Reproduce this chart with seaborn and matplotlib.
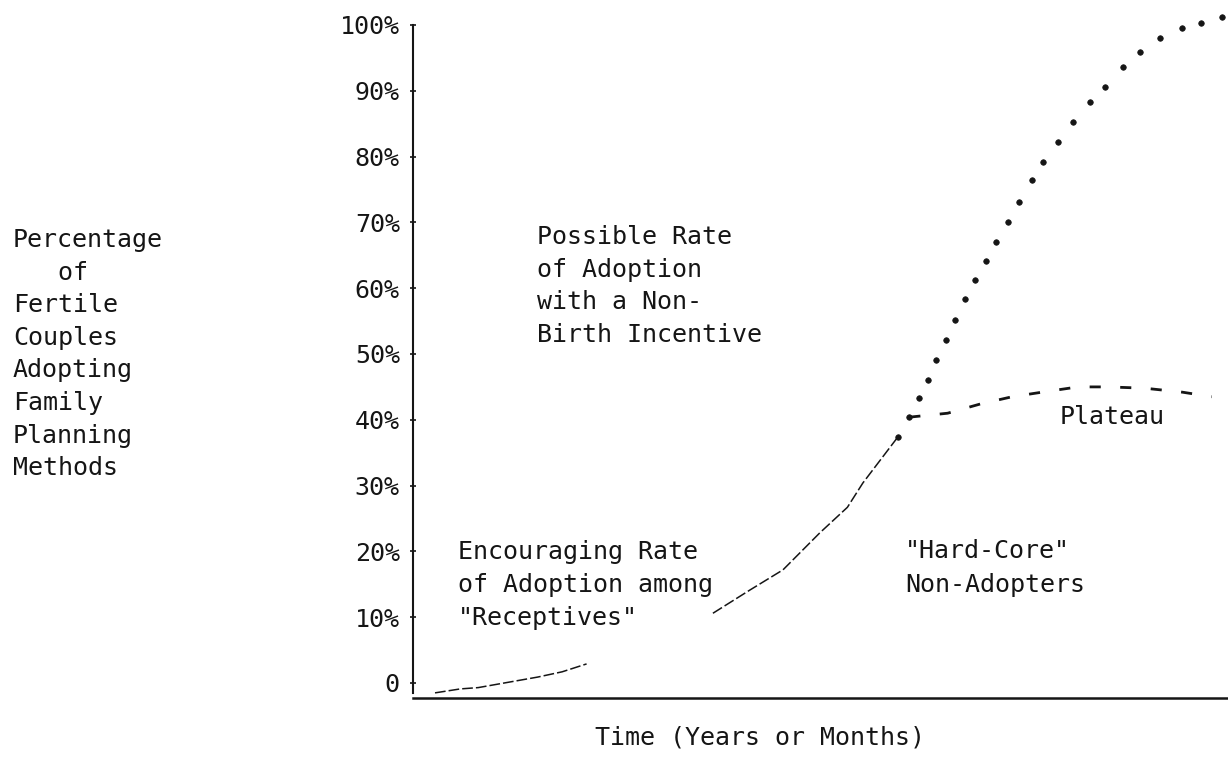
import numpy as np
import pandas as pd
import matplotlib
matplotlib.use("Agg")
import matplotlib.pyplot as plt
import seaborn as sns

# y tick labels
pct_ticks = [0, 10, 20, 30, 40, 50, 60, 70, 80, 90, 100]
pct_labels = ["0", "10%", "20%", "30%", "40%", "50%", "60%", "70%", "80%", "90%", "100%"]

# thin line: slow early adoption among "receptives"
early_x = [2.7, 5.8, 8.0, 15.3, 18.3, 21.3]
early_y = [-1.5, -0.9, -0.7, 0.9, 1.7, 2.9]
rise_x = [36.8, 41.3, 45.4, 49.9, 53.3, 55.2, 59.5]
rise_y = [10.6, 14.1, 17.2, 22.8, 26.7, 30.4, 37.4]

# dotted curve: possible rate with a non-birth incentive
incentive_x = [59.5, 60.9, 62.1, 63.2, 64.2, 65.4, 66.5, 67.7, 69.0, 70.3, 71.5, 73.0, 74.4,
               76.0, 77.3, 79.1, 81.0, 83.1, 84.9, 87.1, 89.2, 91.7, 94.4, 96.7, 99.3]
incentive_y = [37.4, 40.4, 43.3, 46.0, 49.1, 52.1, 55.2, 58.4, 61.2, 64.1, 67.0, 70.1, 73.1,
               76.4, 79.2, 82.2, 85.3, 88.3, 90.6, 93.6, 95.9, 98.0, 99.5, 100.3, 101.2]

# dashed curve: plateau
plateau_x = [60.9, 65.6, 69.6, 73.5, 77.2, 81.6, 85.3, 89.8, 94.4, 98.0]
plateau_y = [40.4, 41.0, 42.4, 43.5, 44.2, 45.0, 45.0, 44.8, 44.2, 43.5]

ylabel_lines = ["Percentage", "   of", "Fertile", "Couples", "Adopting",
                "Family", "Planning", "Methods"]
possible_lines = ["Possible Rate", "of Adoption", "with a Non-", "Birth Incentive"]
encouraging_lines = ["Encouraging Rate", "of Adoption among", "\"Receptives\""]
hardcore_lines = ["\"Hard-Core\"", "Non-Adopters"]

sns.set_theme(style="white")
plt.rcParams['font.family'] = ['DejaVu Sans Mono', 'DejaVu Sans']
ink = "#151515"
W, H = 1228, 765

fig = plt.figure(figsize=(12.28, 7.65), dpi=100)
ax = fig.add_axes([413 / W, (H - 698) / H, (W - 413) / W, (698 - 25) / H])

sns.lineplot(x=early_x, y=early_y, ax=ax, color=ink, lw=1.1, linestyle=(0, (7, 2)))
sns.lineplot(x=rise_x, y=rise_y, ax=ax, color=ink, lw=1.1, linestyle=(0, (7, 2)))
sns.scatterplot(x=incentive_x, y=incentive_y, ax=ax, color=ink, s=16,
                edgecolor=ink, linewidth=0.5, clip_on=False, zorder=3)
sns.lineplot(x=plateau_x, y=plateau_y, ax=ax, color=ink, lw=2.0,
             linestyle=(0, (4, 7)), clip_on=False)

ax.set_xlim(0, 100)
ax.set_ylim(-2.28, 100)
ax.set_xticks([])
ax.set_yticks(pct_ticks)
ax.set_yticklabels(pct_labels, fontsize=18, color=ink)
ax.tick_params(axis="y", direction="inout", length=5, width=1.2, color=ink, pad=7, left=True)
for s in ["top", "right"]:
    ax.spines[s].set_visible(False)
ax.spines["left"].set_color(ink)
ax.spines["left"].set_linewidth(1.5)
ax.spines["left"].set_bounds(-1.5, 100)
ax.spines["bottom"].set_color(ink)
ax.spines["bottom"].set_linewidth(1.8)


def put_lines(lines, x, y0, step=33):
    for i, line in enumerate(lines):
        fig.text(x / W, 1 - (y0 + i * step) / H, line, fontsize=18, color=ink,
                 ha="left", va="center")


put_lines(ylabel_lines, 13, 240, 32.6)
put_lines(possible_lines, 537, 237, 32.7)
put_lines(encouraging_lines, 458, 552)
put_lines(hardcore_lines, 905, 551, 34)
put_lines(["Plateau"], 1060, 417)
put_lines(["Time (Years or Months)"], 595, 737)

fig.savefig("out.png", dpi=100, facecolor="white")
